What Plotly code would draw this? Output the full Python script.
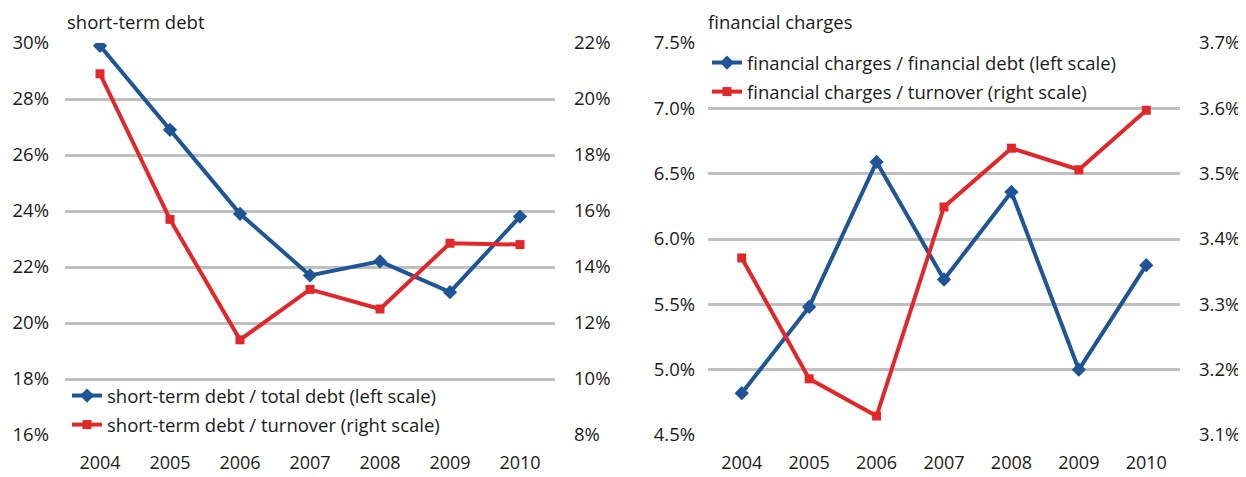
import plotly.graph_objects as go

years = ["2004", "2005", "2006", "2007", "2008", "2009", "2010"]

# left panel: short-term debt
st_total_debt = [29.9, 26.9, 23.9, 21.7, 22.2, 21.1, 23.8]      # left scale, %
st_turnover = [20.9, 15.7, 11.4, 13.2, 12.5, 14.85, 14.8]       # right scale, %

# right panel: financial charges
fc_fin_debt = [4.82, 5.48, 6.59, 5.69, 6.36, 5.00, 5.80]        # left scale, %
fc_turnover = [3.371, 3.186, 3.129, 3.449, 3.539, 3.506, 3.597]  # right scale, %

left_ticks = [16, 18, 20, 22, 24, 26, 28, 30]
left_ticks2 = [8, 10, 12, 14, 16, 18, 20, 22]
right_ticks = [4.5, 5.0, 5.5, 6.0, 6.5, 7.0, 7.5]
right_ticks2 = [3.1, 3.2, 3.3, 3.4, 3.5, 3.6, 3.7]

BLUE = "#1f5597"
RED = "#e0282a"
GRID = "#bfbfbf"
TXT = "#1a1a1a"
FAMILY = "Open Sans, Noto Sans, sans-serif"
TICKFONT = dict(family=FAMILY, size=18.5, color=TXT)
XTICKFONT = dict(family=FAMILY, size=18, color=TXT)
LEGFONT = dict(family=FAMILY, size=18.5, color=TXT)
TITLEFONT = dict(family=FAMILY, size=18.5, color=TXT)

# page body adds an 8px offset; work in screen coordinates and convert
OFF = 8
W, H = 1246 - OFF, 477 - OFF
def px(x):
    return (x - OFF) / W
def py(y):
    return 1 - (y - OFF) / H

fig = go.Figure()

fig.add_trace(go.Scatter(x=years, y=st_total_debt, name="short-term debt / total debt (left scale)",
                         mode="lines+markers", line=dict(color=BLUE, width=4),
                         marker=dict(symbol="diamond", size=11, color=BLUE),
                         xaxis="x", yaxis="y", legend="legend", legendgroup="a"))
fig.add_trace(go.Scatter(x=years, y=st_turnover, name="short-term debt / turnover (right scale)",
                         mode="lines+markers", line=dict(color=RED, width=4),
                         marker=dict(symbol="square", size=9, color=RED),
                         xaxis="x", yaxis="y2", legend="legend", legendgroup="b"))
fig.add_trace(go.Scatter(x=years, y=fc_fin_debt, name="financial charges / financial debt (left scale)",
                         mode="lines+markers", line=dict(color=BLUE, width=4),
                         marker=dict(symbol="diamond", size=11, color=BLUE),
                         xaxis="x2", yaxis="y3", legend="legend2", legendgroup="c"))
fig.add_trace(go.Scatter(x=years, y=fc_turnover, name="financial charges / turnover (right scale)",
                         mode="lines+markers", line=dict(color=RED, width=4),
                         marker=dict(symbol="square", size=9, color=RED),
                         xaxis="x2", yaxis="y4", legend="legend2", legendgroup="d"))

ydom = [py(435), py(43)]
common_x = dict(type="category", categoryorder="array", categoryarray=years, range=[-0.5, 6.5],
                showgrid=False, zeroline=False, showline=False, ticks="", tickfont=XTICKFONT,
                ticklabelstandoff=15, fixedrange=True, automargin=False)

def yax(ticks, fmt, side, anchor, overlay=None, grid=False, standoff=14):
    d = dict(range=[ticks[0], ticks[-1]], tickvals=ticks,
             ticktext=[fmt(t) for t in ticks], domain=ydom, side=side, anchor=anchor,
             showgrid=grid, gridcolor=GRID, gridwidth=3, zeroline=False, showline=False,
             ticks="", tickfont=TICKFONT, ticklabelstandoff=standoff, automargin=False,
             fixedrange=True)
    if overlay:
        d["overlaying"] = overlay
    return d

fig.update_layout(
    width=W, height=H, margin=dict(l=0, r=0, t=0, b=0, autoexpand=False),
    paper_bgcolor="white", plot_bgcolor="white",
    xaxis=dict(domain=[px(65), px(555)], anchor="y", **common_x),
    xaxis2=dict(domain=[px(708), px(1180)], anchor="y3", **common_x),
    yaxis=yax(left_ticks, lambda t: f"{t}%", "left", "x", grid=True, standoff=15),
    yaxis2=yax(left_ticks2, lambda t: f"{t}%", "right", "x", overlay="y", standoff=18),
    yaxis3=yax(right_ticks, lambda t: f"{t:.1f}%", "left", "x2", grid=True, standoff=12),
    yaxis4=yax(right_ticks2, lambda t: f"{t:.1f}%", "right", "x2", overlay="y3", standoff=18),
    legend=dict(x=px(67), y=py(377), xanchor="left", yanchor="top", bgcolor="rgba(0,0,0,0)",
                font=LEGFONT, tracegroupgap=2, itemwidth=30),
    legend2=dict(x=px(707), y=py(44), xanchor="left", yanchor="top", bgcolor="rgba(0,0,0,0)",
                 font=LEGFONT, tracegroupgap=2, itemwidth=30),
    showlegend=True,
    annotations=[
        dict(text="short-term debt", x=px(65), y=py(21), xref="paper", yref="paper",
             xanchor="left", yanchor="middle", showarrow=False, font=TITLEFONT),
        dict(text="financial charges", x=px(706), y=py(21), xref="paper", yref="paper",
             xanchor="left", yanchor="middle", showarrow=False, font=TITLEFONT),
    ],
)

fig.write_html("out.html")
